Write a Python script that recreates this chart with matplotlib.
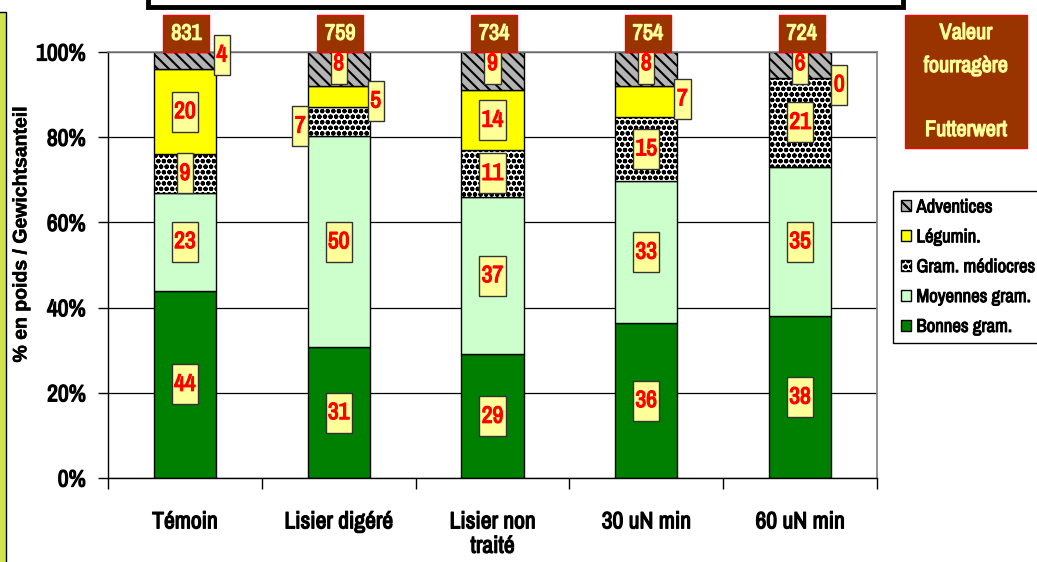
import numpy as np
import matplotlib
matplotlib.use("Agg")
import matplotlib.pyplot as plt
import matplotlib.patheffects as pe
from matplotlib import font_manager
from matplotlib.patches import Rectangle, Patch

CATEGORIES = ["Témoin", "Lisier digéré", "Lisier non\ntraité", "30 uN min", "60 uN min"]
SERIES = ["Bonnes gram.", "Moyennes gram.", "Gram. médiocres", "Légumin.", "Adventices"]
BONNES = [44, 31, 29, 36, 38]
MOYENNES = [23, 50, 37, 33, 35]
MEDIOCRES = [9, 7, 11, 15, 21]
LEGUMIN = [20, 5, 14, 7, 0]
ADVENTICES = [4, 8, 9, 8, 6]
FUTTERWERT = [831, 759, 734, 754, 724]

# --- narrow bold font (Arial Narrow look); fake the bold with a stroke if needed ---
fl = font_manager.fontManager.ttflist
names = {f.name for f in fl}
prefs = ["Arial Narrow", "Liberation Sans Narrow", "Archivo Narrow"]
found = [f for f in prefs if f in names]
NARROW_NAME = found[0] if found else "Liberation Sans"
HAS_BOLD = any(f.name == NARROW_NAME and f.weight in (600, 700, 800, 900, "bold") for f in fl)
NARROW = [NARROW_NAME, "Liberation Sans", "DejaVu Sans"]
WIDE = ["Liberation Sans", "DejaVu Sans"]


def bold_fx(color, lw=0.9):
    if HAS_BOLD:
        return []
    return [pe.withStroke(linewidth=lw, foreground=color)]


plt.rcParams["hatch.linewidth"] = 1.5

COLORS = ["#008000", "#CCFFCC", "white", "#FFFF00", "#B4B4B4"]
HATCHES = [None, None, "ooo", None, "\\\\\\"]

# label placement tweaks: (category, series) -> (dx, y)
LABEL_TWEAKS = {
    (0, 4): (0.24, 99.3),
    (1, 4): (0.0, 97.3),
    (2, 4): (0.0, 97.3),
    (3, 4): (0.0, 97.3),
    (4, 4): (0.0, 97.3),
    (1, 3): (0.24, 88.5),
    (1, 2): (-0.25, 82.6),
    (3, 3): (0.235, 89.0),
    (4, 3): (0.255, 92.3),
}

values = np.array([BONNES, MOYENNES, MEDIOCRES, LEGUMIN, ADVENTICES], dtype=float)
pct = values / values.sum(axis=0) * 100
x = np.arange(len(CATEGORIES))

fig = plt.figure(figsize=(10.37, 5.62), dpi=100, facecolor="white")
ax = fig.add_axes([108 / 1037, 84 / 562, 769 / 1037, 426 / 562])

bottom = np.zeros(len(x))
for i in range(len(SERIES)):
    ax.bar(x, pct[i], 0.405, bottom=bottom, color=COLORS[i], edgecolor="black",
           linewidth=1, hatch=HATCHES[i], zorder=2)
    for j in range(len(x)):
        xc, yc = x[j], bottom[j] + pct[i, j] / 2
        if (j, i) in LABEL_TWEAKS:
            dx, yc = LABEL_TWEAKS[(j, i)]
            xc = xc + dx
        txt = str(int(values[i, j]))
        w = 0.04 + 0.065 * len(txt)
        h = 9.4
        ax.add_patch(Rectangle((xc - w / 2, yc - h / 2), w, h, facecolor="#FFFF99",
                               edgecolor="#333333", linewidth=1, zorder=4, clip_on=False))
        ax.text(xc, yc, txt, ha="center", va="center", color="red", fontsize=17,
                fontweight="bold", family=NARROW, zorder=5, clip_on=False,
                path_effects=bold_fx("red"))
    bottom += pct[i]

# feed value boxes above the bars
for j, v in enumerate(FUTTERWERT):
    w, h = 0.299, 8.7
    ax.add_patch(Rectangle((x[j] + 0.01 - w / 2, 104.3 - h / 2), w, h, facecolor="#993300",
                           edgecolor="#FF0000", linewidth=1, zorder=6, clip_on=False))
    ax.text(x[j] + 0.01, 104.3, str(v), ha="center", va="center", color="#FFFF99",
            fontsize=16, fontweight="bold", family=NARROW, zorder=7, clip_on=False,
            path_effects=bold_fx("#FFFF99"))

ax.set_xlim(-0.5, 4.5)
ax.set_ylim(0, 100)
ax.set_yticks(np.arange(0, 101, 20))
ax.set_yticklabels([f"{t}%" for t in range(0, 101, 20)], fontsize=17,
                   fontweight="bold", family=NARROW)
ax.tick_params(axis="y", direction="out", length=7, width=1, pad=9)
ax.set_xticks(np.arange(-0.5, 4.6, 1.0))
ax.set_xticklabels([])
ax.tick_params(axis="x", which="major", direction="out", length=8, width=1)
ax.set_xticks(x, minor=True)
ax.set_xticklabels(CATEGORIES, minor=True, fontsize=17, fontweight="bold",
                   family=NARROW, linespacing=1.2)
ax.tick_params(axis="x", which="minor", length=0, pad=24)
for lbl in ax.get_yticklabels() + ax.get_xticklabels(minor=True):
    lbl.set_path_effects(bold_fx("black"))

ax.grid(axis="y", color="black", linewidth=0.9, zorder=0)
ax.set_axisbelow(True)
for s in ["top", "right"]:
    ax.spines[s].set_color("#808080")
    ax.spines[s].set_linewidth(1.2)
for s in ["left", "bottom"]:
    ax.spines[s].set_color("black")
    ax.spines[s].set_linewidth(1)

ylab = ax.set_ylabel("% en poids / Gewichtsanteil", fontsize=14, fontweight="bold",
                     family=WIDE)
ylab.set_path_effects([pe.withStroke(linewidth=0.4, foreground="black")])
ax.yaxis.set_label_coords(-0.101, 0.572)

# "Valeur fourragère" box
fig.patches.append(Rectangle((905 / 1037, 1 - 148 / 562), 122 / 1037, 133 / 562,
                             transform=fig.transFigure, facecolor="#993300",
                             edgecolor="#FF0000", linewidth=1))
for txt, ypx in [("Valeur", 33), ("fourragère", 66), ("Futterwert", 130)]:
    fig.text(966 / 1037, 1 - ypx / 562, txt, ha="center", va="center", color="#FFFF99",
             fontsize=16, fontweight="bold", family=NARROW, path_effects=bold_fx("#FFFF99"))

# legend
handles = [Patch(facecolor=COLORS[i], edgecolor="black", hatch=HATCHES[i], label=SERIES[i])
           for i in range(len(SERIES))][::-1]
leg = fig.legend(handles=handles, loc="upper left", bbox_to_anchor=(893 / 1037, 1 - 191 / 562),
                 frameon=True, fancybox=False, edgecolor="black", framealpha=1,
                 prop={"family": NARROW, "weight": "bold", "size": 13.5},
                 handlelength=0.5, handleheight=0.5, handletextpad=0.3,
                 labelspacing=0.74, borderpad=0.45, borderaxespad=0)
leg.get_frame().set_linewidth(1)
for t in leg.get_texts():
    t.set_path_effects(bold_fx("black", 0.7))

# decorative frames around the chart
fig.patches.append(Rectangle((148 / 1037, 1 - 7 / 562), 755 / 1037, 30 / 562,
                             transform=fig.transFigure, facecolor="white",
                             edgecolor="black", linewidth=3.5))
fig.patches.append(Rectangle((-10 / 1037, -10 / 562), 16 / 1037, 560 / 562,
                             transform=fig.transFigure, facecolor="#CFE34E",
                             edgecolor="black", linewidth=1))

fig.savefig("out.png", dpi=100)
